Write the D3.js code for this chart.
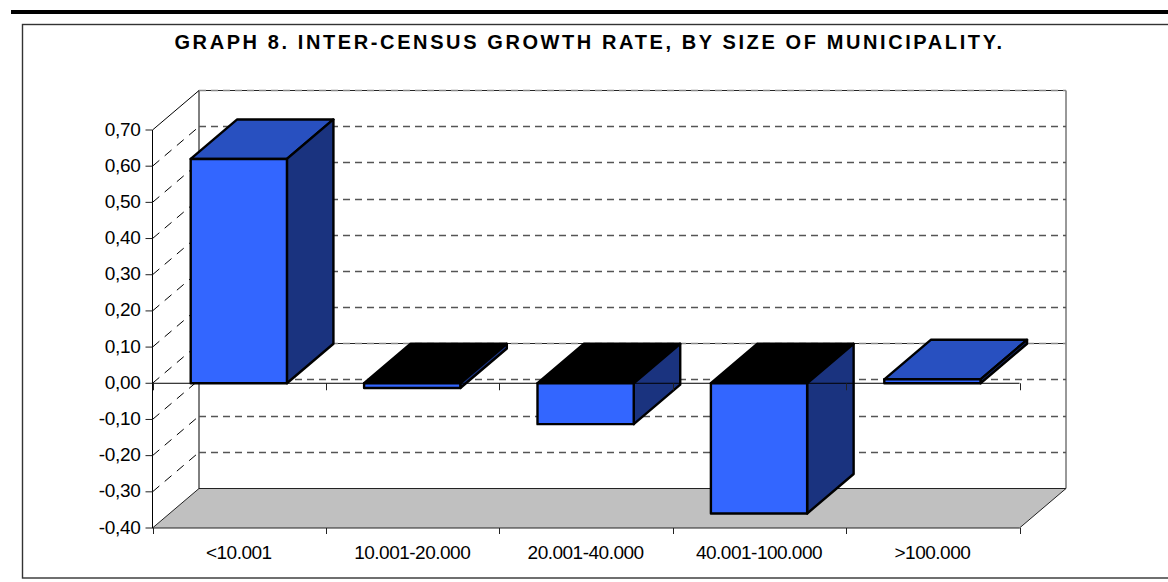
<!DOCTYPE html>
<html><head><meta charset="utf-8">
<script src="https://cdnjs.cloudflare.com/ajax/libs/d3/7.8.5/d3.min.js"></script>
<style>html,body{margin:0;background:#fff}svg{display:block}text{font-family:"Liberation Sans",Arial,sans-serif;fill:#000}</style>
</head><body><svg id="c" width="1168" height="582"></svg>
<script>
const titleText = "GRAPH 8. INTER-CENSUS GROWTH RATE, BY SIZE OF MUNICIPALITY.";
const categories = ["<10.001","10.001-20.000","20.001-40.000","40.001-100.000",">100.000"];
const values = [0.62,-0.013,-0.113,-0.36,0.011];
const yTicks = [0.7,0.6,0.5,0.4,0.3,0.2,0.1,0,-0.1,-0.2,-0.3,-0.4];
const svg = d3.select("#c");
const x = d3.scaleBand().domain(categories).range([152.5,1019.5]).paddingInner(0.445).paddingOuter(0.2225).align(0.495);
const y = d3.scaleLinear().domain([-0.4,0.7]).range([528,130]);
const dx = 46.5, dy = -39.5;
const pts = a => a.map(p=>p.join(",")).join(" ");
const fmt = v => d3.format(".2f")(v).replace(".",",").replace("−","-");
const frontColor="#3366ff", topColor="#2850c0", sideColor="#1a337f";

// top rule and frame
svg.append("rect").attr("x",11).attr("y",10).attr("width",1157).attr("height",4).attr("fill","#000");
svg.append("rect").attr("x",22.5).attr("y",24.5).attr("width",1150).attr("height",553.5).attr("fill","#fff").attr("stroke","#333").attr("stroke-width",1.4);

// title
svg.append("text").attr("x",589.5).attr("y",48.5).attr("text-anchor","middle")
  .attr("font-size",20).attr("font-weight","bold").attr("letter-spacing","2.6px").text(titleText);

const x0=x.range()[0], x1=x.range()[1], yMin=y(-0.4), yMax=y(0.7);
// floor
svg.append("polygon").attr("points",pts([[x0,yMin],[x1,yMin],[x1+dx,yMin+dy],[x0+dx,yMin+dy]]))
  .attr("fill","#c0c0c0").attr("stroke","#222").attr("stroke-width",1);
// walls
svg.append("path").attr("d",`M${x0},${yMin}V${yMax}L${x0+dx},${yMax+dy}V${yMin+dy}`).attr("fill","none").attr("stroke","#000");
svg.append("path").attr("d",`M${x1+dx},${yMin+dy}V${yMax+dy}`).attr("fill","none").attr("stroke","#333");
// gridlines
const grid = svg.append("g").attr("fill","none");
yTicks.forEach(v=>{
  const yy=y(v);
  if(v>-0.4){
    const ly=Math.floor(yy+dy)+.5;
    if(v===0.7||v===0){
      grid.append("line").attr("x1",x0+dx).attr("x2",x1+dx).attr("y1",ly).attr("y2",ly).attr("stroke","#222");
    }
    grid.append("line").attr("x1",x0+dx).attr("x2",x1+dx).attr("y1",ly).attr("y2",ly)
      .attr("stroke",(v===0.7||v===0)?"#888":"#555").attr("stroke-width",1.3).attr("stroke-dasharray","7 5");
  }
  if(v<0.7 && v>-0.4){
    grid.append("line").attr("x1",x0).attr("y1",yy).attr("x2",x0+dx).attr("y2",yy+dy)
      .attr("stroke","#000").attr("stroke-dasharray","9 7");
  }
});
// bars
categories.forEach((c,i)=>{
  const v=values[i], xl=x(c), xr=xl+x.bandwidth(), yv=y(v), y0=y(0), t=Math.min(yv,y0), b=Math.max(yv,y0);
  const g=svg.append("g").attr("stroke","#000").attr("stroke-width",2.4).attr("stroke-linejoin","round");
  g.append("polygon").attr("points",pts([[xl,t],[xr,t],[xr+dx,t+dy],[xl+dx,t+dy]])).attr("fill",v<0?"#000":topColor);
  g.append("polygon").attr("points",pts([[xr,t],[xr+dx,t+dy],[xr+dx,b+dy],[xr,b]])).attr("fill",sideColor);
  g.append("rect").attr("x",xl).attr("y",t).attr("width",x.bandwidth()).attr("height",b-t).attr("fill",frontColor);
});
// zero axis
const y0=y(0);
svg.append("line").attr("x1",x0).attr("x2",x1).attr("y1",y0).attr("y2",y0).attr("stroke","#000");
d3.range(categories.length+1).forEach(i=>{
  const tx=Math.round(x0+i*x.step())+.5;
  svg.append("line").attr("x1",tx).attr("x2",tx).attr("y1",y0).attr("y2",y0+7).attr("stroke","#222");
  svg.append("line").attr("x1",tx).attr("x2",tx).attr("y1",yMin).attr("y2",yMin+6).attr("stroke","#222");
});
// y axis ticks/labels
yTicks.forEach(v=>{
  svg.append("line").attr("x1",x0-7).attr("x2",x0).attr("y1",y(v)).attr("y2",y(v)).attr("stroke","#222");
  svg.append("text").attr("x",x0-12).attr("y",y(v)+5.5).attr("text-anchor","end")
    .attr("font-size",19).attr("letter-spacing","-0.3px").text(fmt(v));
});
// category labels
categories.forEach(c=>{
  svg.append("text").attr("x",x(c)+x.bandwidth()/2).attr("y",558.5).attr("text-anchor","middle")
    .attr("font-size",19).attr("letter-spacing","-0.5px").text(c);
});
</script></body></html>
